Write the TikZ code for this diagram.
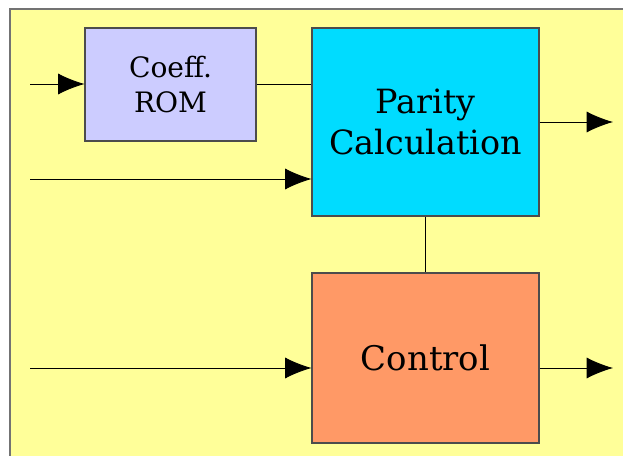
\documentclass[tikz,border=0pt]{standalone}
\usepackage{fontspec}
\setmainfont{DejaVu Serif}
\usepackage{tikz}
\usetikzlibrary{arrows.meta}
\definecolor{bgyellow}{HTML}{FFFF99}
\definecolor{romblue}{HTML}{CCCCFF}
\definecolor{paritycyan}{HTML}{00DCFF}
\definecolor{ctrlorange}{HTML}{FF9966}
\tikzstyle{arrow} = [-{Latex[length=15pt,width=12pt]},line width=0.5pt]
\tikzstyle{wire} = [line width=0.5pt]
\tikzstyle{blk} = [draw=black!70,line width=0.6pt,align=center,inner sep=0pt]

\begin{document}
\begin{tikzpicture}[x=0.02cm,y=-0.02cm]
\useasboundingbox (0,0) rectangle (623,456);
\clip (0,0) rectangle (623,456);
\draw[fill=bgyellow,draw=black!55,line width=1pt] (10,9) rectangle (640,470);
\node[blk,fill=romblue,minimum width=3.42cm,minimum height=2.26cm,font=\fontsize{16}{19.5}\selectfont](rom) at (170.5,84.5){Coeff.\\ROM};
\node[blk,fill=paritycyan,minimum width=4.54cm,minimum height=3.76cm,font=\fontsize{19}{23}\selectfont](par) at (425.5,122){Parity\\Calculation};
\node[blk,fill=ctrlorange,minimum width=4.54cm,minimum height=3.4cm,font=\fontsize{19.3}{24}\selectfont](ctrl) at (425.5,358){Control};
\coordinate (in1) at (30,84);
\coordinate (in2) at (30,179);
\coordinate (in3) at (30,368);
\coordinate (out1) at (613,122);
\coordinate (out2) at (613,368);
\draw[arrow] (in1)--(rom.west |- in1);
\draw[wire] (rom.east |- in1)--(par.west |- in1);
\draw[arrow] (in2)--(par.west |- in2);
\draw[arrow] (par.east |- out1)--(out1);
\draw[wire] (par.south)--(ctrl.north);
\draw[arrow] (in3)--(ctrl.west |- in3);
\draw[arrow] (ctrl.east |- out2)--(out2);
\end{tikzpicture}
\end{document}
